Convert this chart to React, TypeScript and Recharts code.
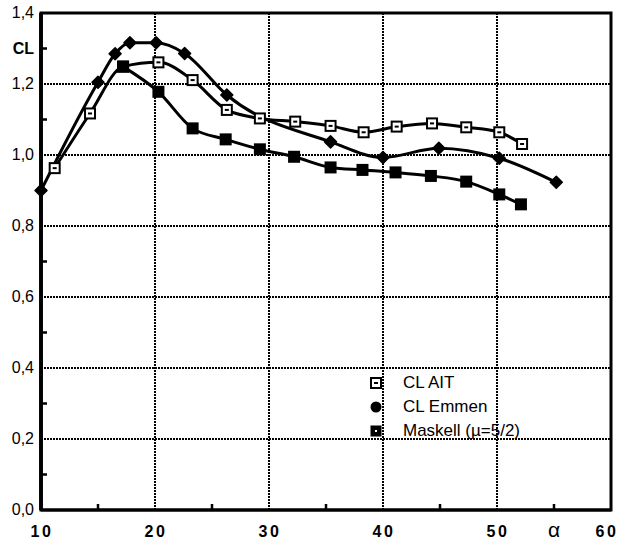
import React from "react";
import { LineChart, Line, XAxis, YAxis, ReferenceLine } from "recharts";

// lift coefficient vs angle of attack
const aitAlpha = [11.2, 14.3, 17.2, 20.3, 23.3, 26.3, 29.2, 32.3, 35.4, 38.3, 41.2, 44.3, 47.3, 50.2, 52.2];
const aitCL = [0.963, 1.117, 1.249, 1.261, 1.211, 1.127, 1.103, 1.094, 1.082, 1.064, 1.08, 1.089, 1.078, 1.064, 1.031];

const emmenAlpha = [10, 15, 16.5, 17.8, 20.1, 22.6, 26.3, 35.4, 40, 44.9, 50.2, 55.2];
const emmenCL = [0.9, 1.205, 1.285, 1.316, 1.316, 1.286, 1.169, 1.037, 0.993, 1.019, 0.991, 0.923];

const maskellAlpha = [17.2, 20.3, 23.3, 26.2, 29.2, 32.2, 35.4, 38.2, 41.1, 44.2, 47.3, 50.2, 52.1];
const maskellCL = [1.249, 1.178, 1.075, 1.044, 1.016, 0.995, 0.965, 0.958, 0.951, 0.941, 0.925, 0.889, 0.861];

const xTicks = [10, 15, 20, 25, 30, 35, 40, 45, 50, 55, 60];
const xTickLabels = ["10", "", "20", "", "30", "", "40", "", "50", "α", "60"];
const yTicks = [0, 0.1, 0.2, 0.3, 0.4, 0.5, 0.6, 0.7, 0.8, 0.9, 1.0, 1.1, 1.2, 1.3, 1.4];
const yTickLabels = ["0,0", "", "0,2", "", "0,4", "", "0,6", "", "0,8", "", "1,0", "", "1,2", "CL", "1,4"];
const xGrid = [20, 30, 40, 50];
const yGrid = [0.2, 0.4, 0.6, 0.8, 1.0, 1.2];

const legendNames = ["CL AIT", "CL Emmen", "Maskell (µ=5/2)"];

const zip = (a: number[], c: number[]) => a.map((alpha, i) => ({ alpha, cl: c[i] }));
const aitData = zip(aitAlpha, aitCL);
const emmenData = zip(emmenAlpha, emmenCL);
const maskellData = zip(maskellAlpha, maskellCL);

const font = '"Liberation Sans", Arial, sans-serif';
// tick content sits tickSize + tickMargin (6 + 2) away from the axis line
const TICK_OFF = 8;

// plot box, from the chart margins and axis sizes below
const W = 621;
const H = 544;
const plot = { left: 41, top: 13, right: W - 10, bottom: H - 34 };

function XTick(props: any) {
  const { x, y, payload } = props;
  const axisY = y - TICK_OFF;
  const label = xTickLabels[xTicks.indexOf(payload.value)];
  const isLast = payload.value === 60;
  return label === "α" ? (
    <text x={x} y={axisY + 27} textAnchor="middle" fontFamily={font} fontSize={21} fill="#000">
      {label}
    </text>
  ) : (
    <text
      x={isLast ? x - 4 : x + 1}
      y={axisY + 27}
      textAnchor="middle"
      fontFamily={font}
      fontSize={16}
      fontWeight="bold"
      letterSpacing={2.5}
      fill="#000"
    >
      {label}
    </text>
  );
}

function YTick(props: any) {
  const { x, y, payload } = props;
  const axisX = x + TICK_OFF;
  const idx = yTicks.findIndex((v) => Math.abs(v - payload.value) < 1e-6);
  const label = yTickLabels[idx];
  return (
    <text
      x={axisX - 7}
      y={y + 5}
      textAnchor="end"
      fontFamily={font}
      fontSize={16}
      fontWeight={label === "CL" ? "bold" : "normal"}
      fill="#000"
    >
      {label}
    </text>
  );
}

const aitDot = (p: any) => (
  <g key={`ait-${p.index}`}>
    <rect x={p.cx - 5} y={p.cy - 5} width={10} height={10} fill="#fff" stroke="#000" strokeWidth={2} />
    <rect x={p.cx - 2} y={p.cy - 1} width={4} height={2} fill="#000" />
  </g>
);

const emmenDot = (p: any) => (
  <polygon
    key={`emmen-${p.index}`}
    points={`${p.cx},${p.cy - 6} ${p.cx + 6},${p.cy} ${p.cx},${p.cy + 6} ${p.cx - 6},${p.cy}`}
    fill="#000"
    stroke="#000"
    strokeWidth={1.5}
    strokeLinejoin="round"
  />
);

const maskellDot = (p: any) => (
  <rect key={`mask-${p.index}`} x={p.cx - 6} y={p.cy - 6} width={12} height={12} fill="#000" />
);

function LegendIcon({ kind }: { kind: number }) {
  return (
    <svg width={14} height={14} style={{ display: "block" }}>
      {kind === 0 && (
        <g>
          <rect x={2} y={2} width={10} height={10} fill="#fff" stroke="#000" strokeWidth={2} />
          <rect x={5} y={6} width={4} height={2} fill="#000" />
        </g>
      )}
      {kind === 1 && <circle cx={7} cy={7} r={5.5} fill="#000" />}
      {kind === 2 && (
        <g>
          <rect x={1.5} y={1.5} width={11} height={11} fill="#000" />
          <rect x={6} y={6} width={2} height={2} fill="#fff" />
        </g>
      )}
    </svg>
  );
}

// heavy frame plus the small inward minor ticks, drawn over the chart
function Frame() {
  const pw = plot.right - plot.left;
  const ph = plot.bottom - plot.top;
  const px = (v: number) => plot.left + ((v - 10) / 50) * pw;
  const py = (v: number) => plot.bottom - (v / 1.4) * ph;
  const minorX = xTicks.filter((v) => v % 10 !== 0);
  const minorY = yTicks.filter((_, i) => i % 2 === 1);
  return (
    <svg width={W} height={H} style={{ position: "absolute", left: 0, top: 0, pointerEvents: "none" }}>
      <rect x={plot.left} y={plot.top} width={pw} height={ph} fill="none" stroke="#000" strokeWidth={3} />
      <line x1={plot.left} x2={plot.left} y1={plot.top} y2={plot.bottom} stroke="#000" strokeWidth={3.5} />
      {minorX.map((v) => (
        <line key={`mx${v}`} x1={px(v)} x2={px(v)} y1={plot.bottom} y2={plot.bottom - 6} stroke="#000" strokeWidth={2.5} />
      ))}
      {minorY.map((v) => (
        <line key={`my${v}`} x1={plot.left} x2={plot.left + 6} y1={py(v)} y2={py(v)} stroke="#000" strokeWidth={2.5} />
      ))}
    </svg>
  );
}

export default function App() {
  return (
    <div style={{ position: "absolute", left: 0, top: 0, width: W, height: H, background: "#fff" }}>
      <LineChart width={W} height={H} margin={{ top: 13, right: 10, bottom: 0, left: 0 }}>
        <XAxis
          dataKey="alpha"
          type="number"
          domain={[10, 60]}
          ticks={xTicks}
          interval={0}
          height={34}
          stroke="#000"
          strokeWidth={3}
          tickLine={false}
          tick={<XTick />}
        />
        <YAxis
          type="number"
          domain={[0, 1.4]}
          ticks={yTicks}
          interval={0}
          width={41}
          stroke="#000"
          strokeWidth={3.5}
          tickLine={false}
          tick={<YTick />}
        />
        {yGrid.map((v) => (
          <ReferenceLine key={`h${v}`} y={v} stroke="#000" strokeWidth={2} strokeDasharray="2 1" />
        ))}
        {xGrid.map((v) => (
          <ReferenceLine key={`v${v}`} x={v} stroke="#000" strokeWidth={2} strokeDasharray="2 1" />
        ))}
        <Line
          data={emmenData}
          dataKey="cl"
          type="monotone"
          stroke="#000"
          strokeWidth={3}
          dot={emmenDot}
          isAnimationActive={false}
        />
        <Line
          data={aitData}
          dataKey="cl"
          type="monotone"
          stroke="#000"
          strokeWidth={3}
          dot={aitDot}
          isAnimationActive={false}
        />
        <Line
          data={maskellData}
          dataKey="cl"
          type="monotone"
          stroke="#000"
          strokeWidth={3}
          dot={maskellDot}
          isAnimationActive={false}
        />
      </LineChart>
      <Frame />
      <div style={{ position: "absolute", left: 369, top: 371, fontFamily: font, fontSize: 17, color: "#000" }}>
        {legendNames.map((name, i) => (
          <div key={name} style={{ display: "flex", alignItems: "center", height: 24 }}>
            <LegendIcon kind={i} />
            <span style={{ marginLeft: 20 }}>{name}</span>
          </div>
        ))}
      </div>
    </div>
  );
}
